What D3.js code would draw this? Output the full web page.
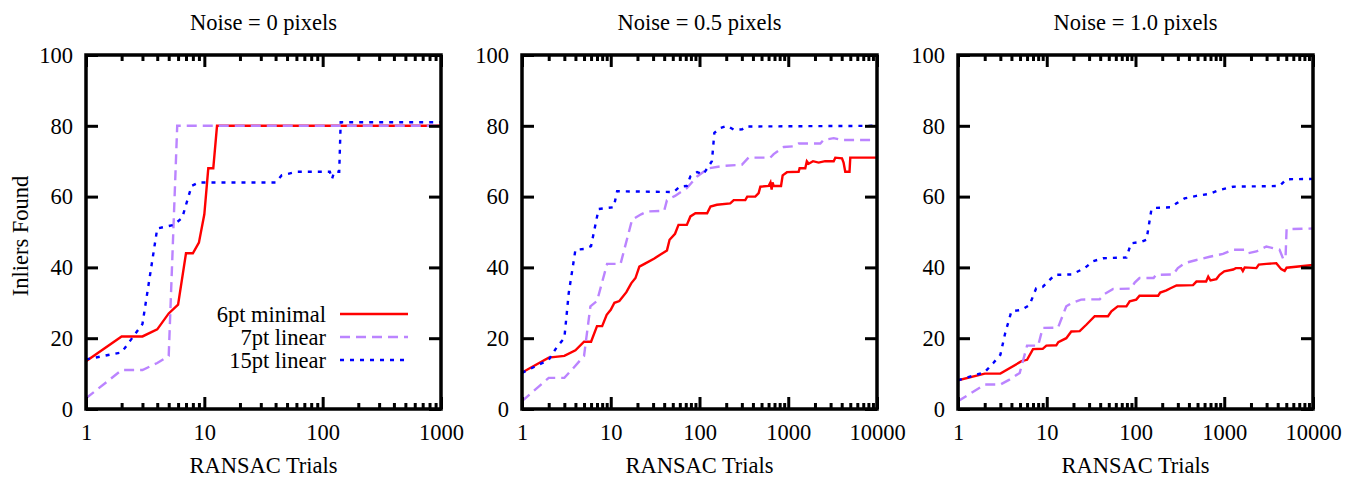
<!DOCTYPE html>
<html>
<head>
<meta charset="utf-8">
<script src="https://cdn.jsdelivr.net/npm/d3@7"></script>
<style>
  body { margin: 0; background: #fff; }
  svg text { font-family: "Liberation Serif", "Times New Roman", serif; fill: #000; }
</style>
</head>
<body>
<svg id="chart" width="1348" height="480"></svg>
<script>
// panel titles and axis ticks
const panelTitles = ["Noise = 0 pixels", "Noise = 0.5 pixels", "Noise = 1.0 pixels"];
const xMaxes = [1000, 10000, 10000];
const yTicks = [0, 20, 40, 60, 80, 100];
const seriesNames = ["6pt minimal", "7pt linear", "15pt linear"];

// [trials, inliers]
const n0_6pt = [[1,13.5],[2,20.5],[3,20.5],[4,22.5],[5,27],[6,29.5],[7,44],[8,44],[9,47],[10,55],[10.8,68],[11.9,68],[12.8,80],[1000,80]];
const n0_7pt = [[1,3],[2,11],[3,11],[4,13],[5,15],[5.9,80],[1000,80]];
const n0_15pt = [[1,14],[2,16],[3,24],[4,51],[5.5,52],[6.5,54],[7.8,63],[9,64],[40,64],[45,66],[60,67],[115,67],[120,65],[125,67],[138,67],[142,81],[1000,81]];

const n05_6pt = [[1,10.3],[2,14.5],[3,15],[4,16.6],[5,19],[6,19],[7,23.4],[8,23.4],[9,26.6],[10,28],[11,30],[12.5,30.5],[15,33],[17,35.5],[19,37],[21,40.2],[24,41],[31,42.5],[36,43.6],[43,44.8],[46,47.8],[53,49.5],[58,52],[72,52],[79,54.4],[90,55.3],[122,55.3],[133,57.2],[157,57.7],[222,58.1],[243,59],[328,59],[345,60],[425,60],[464,61],[485,62.8],[600,63],[630,64],[650,62],[665,64],[685,63],[829,63],[865,66],[968,66.9],[1309,67],[1343,68],[1555,68],[1620,70],[1700,69.3],[1900,70],[2200,69.6],[2600,70],[3250,70],[3390,71],[4030,70.8],[4200,69.6],[4390,67],[4900,67],[5000,71],[10000,71]];
const n05_7pt = [[1,2.2],[2,8.8],[3,8.8],[3.8,11.6],[5,15],[5.9,29],[7,30.5],[9.1,41],[12.9,41],[17.4,53.5],[22,55],[25.7,55.8],[40,56],[43,59],[53,60.2],[72,62.4],[94,65.7],[126,68],[187,68.7],[300,69],[357,71],[627,71],[685,72],[890,74],[1150,74.2],[1310,75],[2300,75],[2500,76],[3250,76.5],[4000,76],[10000,76]];
const n05_15pt = [[1,10.2],[2,13.9],[2.5,17.7],[3,20],[3.36,32.7],[4,45],[5,45.2],[6,46],[7.3,56.5],[10.8,57],[11.8,61.5],[51,61.3],[60,62.8],[72,63],[79,65.7],[94,66.9],[110,66.3],[126,68.5],[138,70],[147,78],[172,79.4],[204,80],[243,78.9],[302,79],[330,79.8],[10000,80]];

const n1_6pt = [[1,8.1],[2,10],[3,10],[5.2,13.5],[6,13.9],[7,16.9],[9,17],[9.9,17.9],[12.8,18],[13.5,18.9],[16.6,20],[18.9,21.9],[23.5,22],[27.9,23.8],[34.7,26.2],[49,26.2],[53.5,27.6],[63,29],[79,29],[86,30.4],[102,30.9],[111,32],[180,32],[190,32.9],[223,33.5],[248,34.1],[290,34.9],[445,35],[486,36],[625,36],[660,37.4],[700,36.3],[815,36.7],[887,37.9],[1000,38.9],[1260,39.4],[1350,39.8],[1550,39.8],[1620,39],[1700,40],[2300,39.8],[2450,40.8],[2980,41],[3860,41.2],[4380,39.5],[4790,39],[5040,39.9],[10000,40.7]];
const n1_7pt = [[1,2.2],[2,6.9],[3,6.9],[3.8,8.3],[4.96,10.2],[6,17.9],[8,17.9],[9,22.9],[13.4,23],[16.6,29],[19,29.9],[24.4,30.9],[39.5,31],[45,32.5],[56,33.9],[89,34],[98,35.7],[111,37],[160,37],[170,37.9],[265,38],[300,39.8],[357,41.2],[486,42.1],[685,43],[968,43.8],[1260,45],[1700,45],[1860,44],[2300,44.5],[2980,45.9],[4200,45],[4600,42.5],[4900,42.5],[5040,50.8],[10000,51]];
const n1_15pt = [[1,8.1],[2,10.4],[2.5,13],[3,15.3],[3.4,21.4],[4,27.6],[5.2,28],[6.4,29.4],[7.6,34.1],[9,34.5],[12.3,37.9],[19,38],[26.8,39.8],[33,41.7],[43,42.6],[79,42.8],[89,46.8],[116,47.2],[133,47.8],[151,56.3],[164,56.8],[253,57],[290,58.1],[357,59.5],[486,60.2],[685,60.8],[887,61.9],[1260,62.8],[4200,63],[5040,64.9],[10000,65]];

const panelData = [
  [n0_6pt, n0_7pt, n0_15pt],
  [n05_6pt, n05_7pt, n05_15pt],
  [n1_6pt, n1_7pt, n1_15pt]
];

const colors = ["#ff0000", "#bb84ff", "#0000ff"];
const dashes = [null, "10,6", "4,6"];

const svg = d3.select("#chart");
const lefts = [86, 522, 958];
const pw = 355, ph = 354, plotTop = 55;
const fs = 22.5;

lefts.forEach((left, p) => {
  const g = svg.append("g").attr("transform", `translate(${left},${plotTop})`);
  const xMax = xMaxes[p];
  const x = d3.scaleLog().domain([1, xMax]).range([0, pw]);
  const y = d3.scaleLinear().domain([0, 100]).range([ph, 0]);

  // major and minor tick values
  const major = [], minor = [];
  for (let v = 1; v <= xMax; v *= 10) {
    major.push(v);
    if (v < xMax) for (let k = 2; k <= 9; k++) minor.push(v * k);
  }

  g.append("clipPath").attr("id", "clip" + p)
    .append("rect").attr("width", pw).attr("height", ph);

  // lines
  const line = d3.line().x(d => x(d[0])).y(d => y(d[1]));
  panelData[p].forEach((data, i) => {
    g.append("path")
      .datum(data)
      .attr("clip-path", `url(#clip${p})`)
      .attr("fill", "none")
      .attr("stroke", colors[i])
      .attr("stroke-width", 2.4)
      .attr("stroke-dasharray", dashes[i])
      .attr("d", line);
  });

  // axes, ticks point inward
  const styleAxis = (sel, showText) => {
    sel.select(".domain").remove();
    sel.selectAll(".tick line").attr("stroke", "#000").attr("stroke-width", 3);
    sel.selectAll(".tick text").style("font-size", fs + "px")
      .style("font-family", "Liberation Serif").attr("fill", "#000");
    if (!showText) sel.selectAll(".tick text").remove();
  };

  g.append("g").attr("transform", `translate(0,${ph})`)
    .call(d3.axisBottom(x).tickValues(major).tickSize(-12).tickPadding(15).tickFormat(d3.format("d")))
    .call(s => styleAxis(s, true));
  g.append("g").attr("transform", `translate(0,${ph})`)
    .call(d3.axisBottom(x).tickValues(minor).tickSize(-6))
    .call(s => styleAxis(s, false));
  g.append("g")
    .call(d3.axisTop(x).tickValues(major).tickSize(-12))
    .call(s => styleAxis(s, false));
  g.append("g")
    .call(d3.axisTop(x).tickValues(minor).tickSize(-6))
    .call(s => styleAxis(s, false));
  g.append("g")
    .call(d3.axisLeft(y).tickValues(yTicks).tickSize(-12).tickPadding(13))
    .call(s => styleAxis(s, true));
  g.append("g").attr("transform", `translate(${pw},0)`)
    .call(d3.axisRight(y).tickValues(yTicks).tickSize(-12))
    .call(s => styleAxis(s, false));

  // border
  g.append("rect").attr("width", pw).attr("height", ph)
    .attr("fill", "none").attr("stroke", "#000").attr("stroke-width", 3.5);

  // title and x label
  g.append("text").attr("x", pw / 2).attr("y", -25)
    .attr("text-anchor", "middle").style("font-size", fs + "px").text(panelTitles[p]);
  g.append("text").attr("x", pw / 2).attr("y", ph + 64)
    .attr("text-anchor", "middle").style("font-size", fs + "px").text("RANSAC Trials");

  if (p === 0) {
    g.append("text")
      .attr("transform", `translate(-58,${ph / 2 + 4}) rotate(-90)`)
      .attr("text-anchor", "middle").style("font-size", fs + "px").text("Inliers Found");

    // legend
    const leg = g.append("g").attr("transform", "translate(240,259)");
    seriesNames.forEach((name, i) => {
      const row = leg.append("g").attr("transform", `translate(0,${i * 23})`);
      row.append("text").attr("x", 0).attr("y", 0).attr("dy", "0.35em")
        .attr("text-anchor", "end").style("font-size", fs + "px").text(name);
      row.append("line").attr("x1", 14).attr("x2", 82)
        .attr("stroke", colors[i]).attr("stroke-width", 2.4)
        .attr("stroke-dasharray", dashes[i]);
    });
  }
});
</script>
</body>
</html>
